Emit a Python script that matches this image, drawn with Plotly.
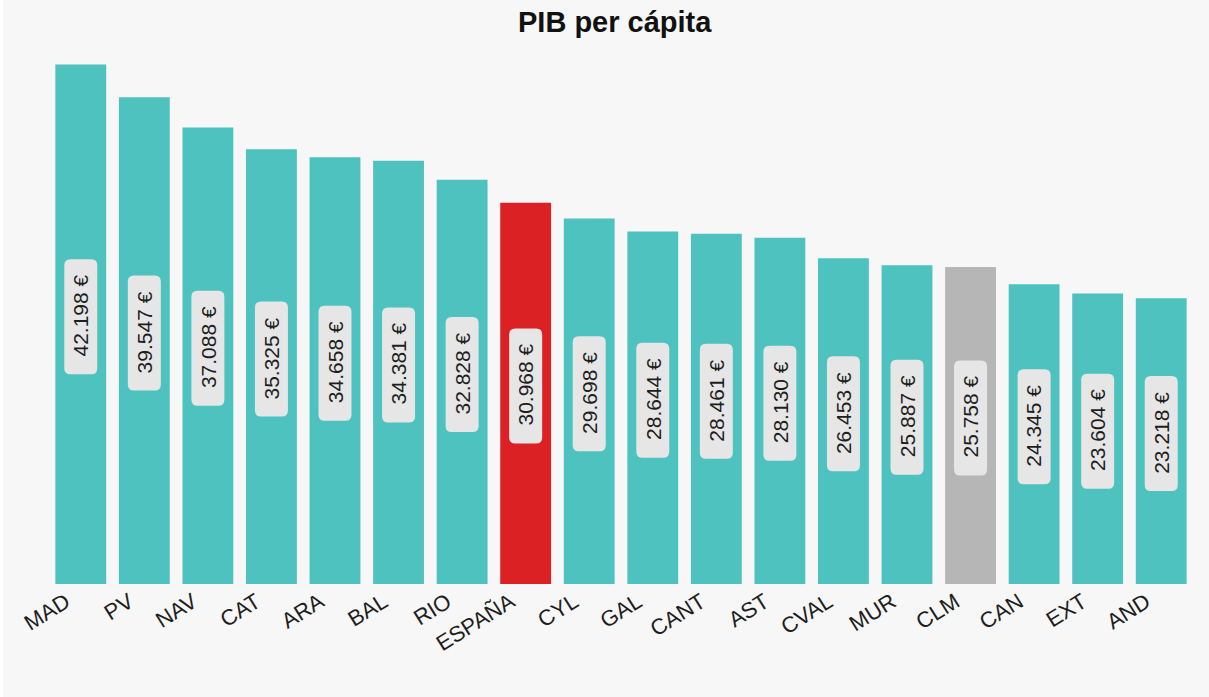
import plotly.graph_objects as go

# PIB per cápita por comunidad autónoma (euros)
regions = ["MAD", "PV", "NAV", "CAT", "ARA", "BAL", "RIO", "ESPAÑA", "CYL",
           "GAL", "CANT", "AST", "CVAL", "MUR", "CLM", "CAN", "EXT", "AND"]
gdp_pc = [42198, 39547, 37088, 35325, 34658, 34381, 32828, 30968, 29698,
          28644, 28461, 28130, 26453, 25887, 25758, 24345, 23604, 23218]

TEAL = "#4dc2bf"
RED = "#db2124"
GREY = "#b6b6b6"
highlight = {"ESPAÑA": RED, "CLM": GREY}
bar_colors = [highlight.get(r, TEAL) for r in regions]

FONT = "Liberation Sans, Arial, Helvetica, sans-serif"


def fmt_eur(v):
    return f"{v:,}".replace(",", ".") + " €"


fig = go.Figure(
    go.Bar(
        x=regions,
        y=gdp_pc,
        marker=dict(color=bar_colors, line=dict(width=0)),
        hovertemplate="%{x}: %{y:,.0f} €<extra></extra>",
    )
)


def rounded_rect(w, h, r, dy):
    x0, x1 = -w / 2, w / 2
    y0, y1 = -h / 2 + dy, h / 2 + dy
    return (
        f"M {x0 + r},{y0} L {x1 - r},{y0} Q {x1},{y0} {x1},{y0 + r} "
        f"L {x1},{y1 - r} Q {x1},{y1} {x1 - r},{y1} "
        f"L {x0 + r},{y1} Q {x0},{y1} {x0},{y1 - r} "
        f"L {x0},{y0 + r} Q {x0},{y0} {x0 + r},{y0} Z"
    )


LABEL_SHIFT = 7.5
shapes = [
    # grey chart card
    dict(type="rect", xref="paper", yref="paper",
         x0=-0.04, x1=1.02, y0=-0.3, y1=1.1,
         fillcolor="#f7f7f7", line=dict(width=0), layer="below"),
]
annotations = []
for i, (r, v) in enumerate(zip(regions, gdp_pc)):
    shapes.append(dict(
        type="path", xref="x", yref="y",
        xsizemode="pixel", ysizemode="pixel",
        xanchor=i, yanchor=v / 2,
        path=rounded_rect(33, 115, 6, LABEL_SHIFT),
        fillcolor="#e6e6e6", line=dict(width=0), layer="above",
    ))
    annotations.append(dict(
        x=r, y=v / 2, xref="x", yref="y", yshift=LABEL_SHIFT + 1,
        text=fmt_eur(v), textangle=-90, showarrow=False,
        font=dict(family=FONT, size=21, color="#1e1e1e"),
    ))

annotations.append(dict(
    text="<b>PIB per cápita</b>", xref="paper", yref="paper",
    x=(614.5 - 49) / 1144, y=1 + (40 - 22) / 544,
    xanchor="center", yanchor="middle", showarrow=False,
    font=dict(family=FONT, size=29, color="#111111"),
))

fig.update_layout(
    width=1209, height=697,
    margin=dict(l=49, r=16, t=40, b=113),
    paper_bgcolor="#ffffff",
    plot_bgcolor="#f7f7f7",
    bargap=0.2,
    showlegend=False,
    shapes=shapes,
    annotations=annotations,
    font=dict(family=FONT),
    xaxis=dict(
        tickangle=-32,
        tickfont=dict(family=FONT, size=22, color="#1e1e1e"),
        ticklabelshift=-15,
        showgrid=False, zeroline=False, showline=False, ticks="",
    ),
    yaxis=dict(
        range=[0, 44190], visible=False, showgrid=False, zeroline=False,
    ),
)

fig.write_html("out.html")
